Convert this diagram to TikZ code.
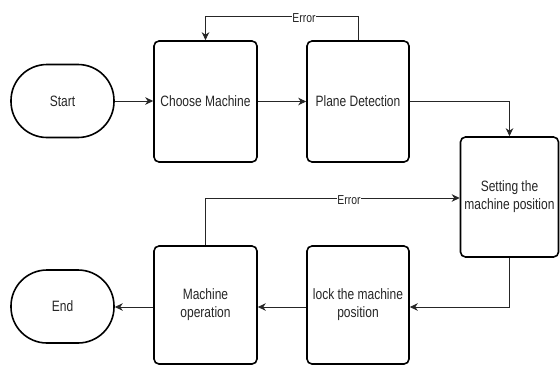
\documentclass[tikz,border=0pt]{standalone}
\usepackage{fontspec}
\setmainfont[FakeStretch=0.8]{Liberation Sans}
\usetikzlibrary{arrows.meta}

\tikzset{
  stepbox/.style={draw=black, line width=1.6pt, rounded corners=5pt, fill=white,
    align=center, inner sep=2pt, font=\fontsize{15}{18}\selectfont, text=black!85},
  term/.style={draw=black, line width=1.6pt, rounded corners=36pt, fill=white,
    minimum width=103pt, minimum height=73pt, inner sep=0pt,
    font=\fontsize{15}{18}\selectfont, text=black!85},
  arr/.style={draw=black!85, line width=0.9pt,
    -{Stealth[length=8pt,width=7.5pt,inset=2.5pt]}},
  lbl/.style={fill=white, inner sep=0.5pt, font=\fontsize{13}{14}\selectfont, text=black!85}
}

\begin{document}
\begin{tikzpicture}[x=1pt,y=-1pt]
  % canvas
  \fill[white] (0,0) rectangle (560,365);
  \useasboundingbox (0,0) rectangle (560,365);

  % process nodes
  \node[term] (start) at (62.5,101) {Start};
  \node[stepbox, minimum width=103pt, minimum height=121pt] (choose) at (205.5,101.5) {Choose Machine};
  \node[stepbox, minimum width=102pt, minimum height=121pt] (plane) at (358,101.5) {Plane Detection};
  \node[stepbox, minimum width=98pt, minimum height=120pt] (setting) at (509.5,197) {Setting the\\machine position};
  \node[stepbox, minimum width=102pt, minimum height=118pt] (lock) at (358,305) {lock the machine\\position};
  \node[stepbox, minimum width=103pt, minimum height=118pt] (mo) at (205.5,305) {Machine\\operation};
  \node[term] (end) at (62.5,306.5) {End};

  % main flow
  \draw[arr] (start.east) -- (start.east -| choose.west);
  \draw[arr] (choose.east) -- (plane.west);
  \draw[arr] (plane.east) -| (setting.north);
  \draw[arr] (setting.south) |- ([yshift=-2pt]lock.east);
  \draw[arr] ([yshift=-2pt]lock.west) -- ([yshift=-2pt]mo.east);
  \draw[arr] ([yshift=-2pt]mo.west) -- ([yshift=-2pt]mo.west -| end.east);

  % error returns
  \draw[arr] (plane.north) -- ++(0,-24) -| (choose.north);
  \node[lbl] (err1) at (304,18.5) {Error};
  \draw[arr] (mo.north) |- ([yshift=-1pt]setting.west);
  \node[lbl] (err2) at (349,200.5) {Error};
\end{tikzpicture}
\end{document}
